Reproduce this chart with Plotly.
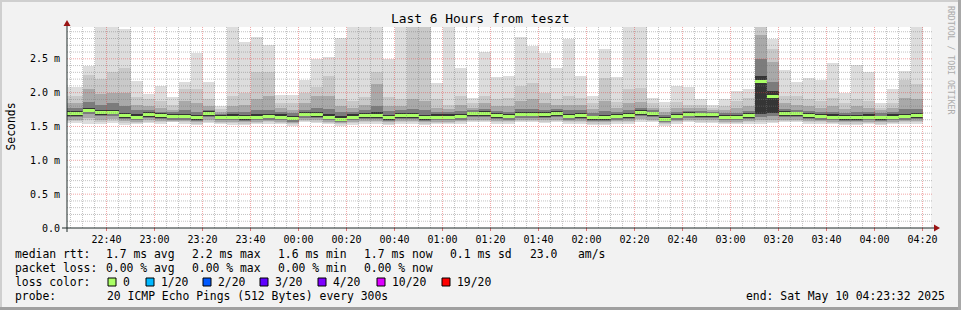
import plotly.graph_objects as go
import pandas as pd

# ---------------- data ----------------
bar_start = pd.date_range("2025-05-09 22:20", periods=72, freq="5min")
x_centers = bar_start + pd.Timedelta(seconds=150)

ping_max = [2.08, 2.08, 2.40, 3.10, 3.10, 2.94, 2.17, 1.98, 2.10, 1.93,
            2.15, 2.58, 2.15, 1.81, 3.10, 2.75, 2.82, 2.71, 1.97, 1.96,
            2.19, 2.50, 2.53, 2.81, 3.10, 3.10, 3.10, 2.50, 3.10, 3.10,
            3.10, 2.14, 3.10, 2.37, 1.92, 2.60, 2.23, 2.24, 2.82, 2.69,
            2.59, 2.36, 2.80, 2.25, 1.95, 2.65, 2.23, 3.10, 3.10, 1.92,
            1.86, 2.10, 2.09, 1.90, 1.82, 1.90, 2.03, 2.06, 3.60, 2.80,
            2.34, 2.16, 2.21, 2.19, 2.44, 2.00, 2.41, 2.31, 1.85, 2.06,
            2.32, 3.10]
ping_hi2 = [1.95, 1.95, 2.26, 2.20, 2.30, 2.36, 1.93, 1.91, 1.88, 1.82,
            2.05, 2.05, 1.91, 1.76, 1.95, 2.00, 2.30, 2.30, 1.85, 1.84,
            1.99, 2.09, 2.25, 1.91, 1.87, 1.94, 2.31, 1.93, 1.91, 3.10,
            3.10, 1.90, 1.82, 1.95, 1.84, 1.95, 1.90, 1.92, 2.10, 2.14,
            2.00, 1.91, 1.95, 1.92, 1.85, 2.22, 1.86, 2.05, 2.07, 1.85,
            1.78, 1.86, 1.82, 1.82, 1.78, 1.80, 1.88, 1.92, 3.20, 2.65,
            1.95, 1.95, 1.90, 1.88, 1.92, 1.85, 1.91, 1.88, 1.78, 1.85,
            2.19, 2.13]
ping_hi3 = [1.85, 1.85, 2.05, 1.98, 2.00, 2.00, 1.82, 1.80, 1.78, 1.75,
            1.88, 1.85, 1.80, 1.72, 1.80, 1.82, 1.90, 1.95, 1.78, 1.75,
            1.85, 1.95, 1.95, 1.80, 1.78, 1.82, 2.13, 1.80, 1.80, 1.90,
            1.88, 1.78, 1.76, 1.82, 1.78, 1.84, 1.80, 1.80, 1.88, 1.90,
            1.85, 1.82, 1.82, 1.82, 1.76, 1.88, 1.78, 1.85, 1.86, 1.78,
            1.72, 1.78, 1.77, 1.77, 1.75, 1.75, 1.78, 1.80, 2.85, 2.45,
            1.84, 1.82, 1.80, 1.78, 1.80, 1.76, 1.80, 1.78, 1.74, 1.78,
            1.92, 1.90]
ping_hi4 = [1.78, 1.78, 1.86, 1.82, 1.84, 1.80, 1.74, 1.74, 1.72, 1.71,
            1.74, 1.72, 1.74, 1.68, 1.72, 1.71, 1.74, 1.75, 1.72, 1.70,
            1.75, 1.78, 1.76, 1.72, 1.72, 1.74, 1.80, 1.73, 1.74, 1.76,
            1.74, 1.72, 1.71, 1.73, 1.74, 1.76, 1.73, 1.72, 1.76, 1.76,
            1.74, 1.76, 1.74, 1.74, 1.70, 1.73, 1.72, 1.74, 1.77, 1.74,
            1.67, 1.71, 1.73, 1.73, 1.72, 1.70, 1.70, 1.73, 2.50, 2.15,
            1.76, 1.75, 1.73, 1.72, 1.72, 1.70, 1.72, 1.71, 1.70, 1.72,
            1.76, 1.76]
ping_hi5 = [1.73, 1.73, 1.78, 1.75, 1.75, 1.70, 1.68, 1.71, 1.70, 1.69,
            1.69, 1.67, 1.73, 1.67, 1.68, 1.67, 1.68, 1.69, 1.68, 1.66,
            1.72, 1.71, 1.68, 1.65, 1.68, 1.70, 1.71, 1.67, 1.70, 1.70,
            1.67, 1.68, 1.68, 1.69, 1.72, 1.73, 1.70, 1.69, 1.72, 1.72,
            1.71, 1.73, 1.69, 1.70, 1.66, 1.67, 1.69, 1.70, 1.74, 1.72,
            1.64, 1.68, 1.71, 1.70, 1.70, 1.67, 1.67, 1.70, 2.25, 2.02,
            1.73, 1.72, 1.70, 1.69, 1.68, 1.67, 1.67, 1.68, 1.66, 1.68,
            1.69, 1.70]
median_rtt = [1.69, 1.69, 1.74, 1.70, 1.71, 1.66, 1.64, 1.67, 1.66, 1.65,
              1.65, 1.63, 1.69, 1.64, 1.64, 1.63, 1.64, 1.65, 1.64, 1.62,
              1.68, 1.67, 1.64, 1.61, 1.64, 1.66, 1.66, 1.63, 1.66, 1.66,
              1.63, 1.64, 1.64, 1.65, 1.69, 1.69, 1.66, 1.65, 1.68, 1.68,
              1.67, 1.69, 1.65, 1.66, 1.63, 1.63, 1.65, 1.66, 1.70, 1.69,
              1.61, 1.65, 1.68, 1.67, 1.67, 1.64, 1.64, 1.66, 2.16, 1.94,
              1.69, 1.69, 1.66, 1.65, 1.64, 1.63, 1.63, 1.64, 1.63, 1.64,
              1.65, 1.66]
ping_lo5 = [1.66, 1.66, 1.71, 1.67, 1.68, 1.63, 1.61, 1.64, 1.63, 1.62,
            1.62, 1.60, 1.66, 1.61, 1.61, 1.60, 1.61, 1.62, 1.61, 1.59,
            1.65, 1.64, 1.61, 1.58, 1.61, 1.63, 1.63, 1.60, 1.63, 1.63,
            1.60, 1.61, 1.61, 1.62, 1.66, 1.66, 1.63, 1.62, 1.65, 1.65,
            1.64, 1.66, 1.62, 1.63, 1.60, 1.60, 1.62, 1.63, 1.67, 1.66,
            1.58, 1.62, 1.65, 1.64, 1.64, 1.61, 1.61, 1.63, 1.69, 1.70,
            1.66, 1.66, 1.63, 1.62, 1.61, 1.60, 1.60, 1.61, 1.60, 1.61,
            1.62, 1.63]
ping_lo4 = [1.64, 1.64, 1.68, 1.65, 1.66, 1.61, 1.59, 1.62, 1.61, 1.60,
            1.60, 1.58, 1.64, 1.59, 1.59, 1.58, 1.59, 1.60, 1.59, 1.57,
            1.63, 1.62, 1.59, 1.56, 1.59, 1.61, 1.61, 1.58, 1.61, 1.61,
            1.58, 1.59, 1.59, 1.60, 1.64, 1.64, 1.61, 1.60, 1.63, 1.63,
            1.62, 1.64, 1.60, 1.61, 1.58, 1.58, 1.60, 1.61, 1.65, 1.64,
            1.56, 1.60, 1.63, 1.62, 1.62, 1.59, 1.59, 1.61, 1.64, 1.65,
            1.64, 1.64, 1.61, 1.60, 1.59, 1.58, 1.58, 1.59, 1.58, 1.59,
            1.60, 1.61]
ping_lo3 = [1.60, 1.60, 1.62, 1.60, 1.61, 1.58, 1.57, 1.59, 1.58, 1.58,
            1.58, 1.56, 1.60, 1.57, 1.57, 1.56, 1.57, 1.58, 1.57, 1.55,
            1.60, 1.59, 1.57, 1.55, 1.57, 1.58, 1.58, 1.56, 1.58, 1.58,
            1.56, 1.57, 1.57, 1.58, 1.60, 1.60, 1.58, 1.58, 1.60, 1.60,
            1.59, 1.60, 1.58, 1.58, 1.56, 1.56, 1.58, 1.58, 1.61, 1.60,
            1.55, 1.58, 1.60, 1.59, 1.59, 1.57, 1.57, 1.58, 1.60, 1.60,
            1.60, 1.60, 1.58, 1.58, 1.57, 1.56, 1.56, 1.57, 1.56, 1.57,
            1.58, 1.58]
ping_lo2 = [1.58, 1.58, 1.59, 1.57, 1.58, 1.55, 1.55, 1.57, 1.56, 1.57,
            1.56, 1.54, 1.57, 1.55, 1.55, 1.54, 1.55, 1.56, 1.55, 1.53,
            1.58, 1.57, 1.55, 1.53, 1.55, 1.56, 1.56, 1.54, 1.56, 1.56,
            1.54, 1.55, 1.55, 1.56, 1.58, 1.58, 1.56, 1.56, 1.58, 1.58,
            1.57, 1.58, 1.56, 1.56, 1.54, 1.54, 1.56, 1.56, 1.59, 1.58,
            1.53, 1.56, 1.58, 1.57, 1.57, 1.55, 1.55, 1.56, 1.57, 1.57,
            1.58, 1.58, 1.56, 1.56, 1.55, 1.54, 1.54, 1.55, 1.54, 1.55,
            1.56, 1.56]
ping_min = [1.55, 1.55, 1.53, 1.54, 1.55, 1.52, 1.53, 1.55, 1.54, 1.56,
            1.53, 1.52, 1.55, 1.53, 1.52, 1.52, 1.53, 1.54, 1.53, 1.51,
            1.56, 1.55, 1.53, 1.51, 1.52, 1.53, 1.54, 1.52, 1.54, 1.53,
            1.52, 1.53, 1.53, 1.54, 1.56, 1.56, 1.54, 1.53, 1.56, 1.56,
            1.55, 1.56, 1.54, 1.54, 1.52, 1.52, 1.54, 1.54, 1.57, 1.56,
            1.51, 1.54, 1.56, 1.55, 1.55, 1.53, 1.53, 1.54, 1.54, 1.55,
            1.56, 1.56, 1.54, 1.54, 1.53, 1.52, 1.52, 1.53, 1.52, 1.53,
            1.54, 1.54]

y_tick_vals = [0.0, 0.5, 1.0, 1.5, 2.0, 2.5]
y_tick_text = ["0.0", "0.5 m", "1.0 m", "1.5 m", "2.0 m", "2.5 m"]

loss_labels = ["0", "1/20", "2/20", "3/20", "4/20", "10/20", "19/20"]
loss_colors = ["#aaff66", "#00b8ff", "#0059ff", "#5e00ff", "#7e00ff", "#dd00ff", "#ff0000"]

X_START = "2025-05-09 22:23:32"
X_END = "2025-05-10 04:23:32"
Y_MAX = 2.97

# ---------------- layout helpers (pixel -> paper) ----------------
W, H = 961, 310
L, R, T, B = 67, 30, 27, 82
PW, PH = W - L - R, H - T - B


def fx(px):
    return (px - L) / PW


def fy(py):
    return (H - B - py) / PH


FONT = "DejaVu Sans Mono"

fig = go.Figure()

bands = [
    (ping_min, ping_max, "#dddddd"),
    (ping_lo2, ping_hi2, "#c9c9c9"),
    (ping_lo3, ping_hi3, "#a9a9a9"),
    (ping_lo4, ping_hi4, "#7c7c7c"),
    (ping_lo5, ping_hi5, "#353535"),
]
for lo, hi, col in bands:
    fig.add_trace(go.Bar(
        x=x_centers, y=[h - l for l, h in zip(lo, hi)], base=lo,
        width=300000, marker=dict(color=col, line=dict(width=0)),
        hoverinfo="skip", showlegend=False))

MED_H = 0.044
fig.add_trace(go.Bar(
    x=x_centers, y=[MED_H] * len(median_rtt), base=[m - MED_H / 2 for m in median_rtt],
    width=300000, marker=dict(color=loss_colors[0], line=dict(width=0)),
    hoverinfo="skip", showlegend=False))

shapes = []
# grid on top of data
minor_x = pd.date_range("2025-05-09 22:25", "2025-05-10 04:20", freq="5min")
major_x = set(pd.date_range("2025-05-09 22:40", "2025-05-10 04:20", freq="20min"))
MINOR_C = "rgba(120,120,120,0.45)"
MAJOR_C = "rgba(225,60,60,0.45)"
for t in minor_x:
    major = t in major_x
    s = t.strftime("%Y-%m-%d %H:%M:%S")
    shapes.append(dict(type="line", xref="x", yref="paper", x0=s, x1=s, y0=0, y1=1,
                       line=dict(color=MAJOR_C if major else MINOR_C, width=1, dash="1px,1px"),
                       layer="above"))
    if major:
        shapes.append(dict(type="line", xref="x", yref="paper", x0=s, x1=s, y0=fy(231), y1=fy(228),
                           line=dict(color="#e07070", width=1), layer="above"))
for i in range(1, 30):
    v = i / 10
    major = (i % 5 == 0)
    shapes.append(dict(type="line", xref="paper", yref="y", x0=0, x1=fx(932), y0=v, y1=v,
                       line=dict(color=MAJOR_C if major else MINOR_C, width=1, dash="1px,1px"),
                       layer="above"))
# axes
AX_C = "#1f2b28"
shapes.append(dict(type="line", xref="paper", yref="paper", x0=fx(62), x1=fx(935), y0=fy(228), y1=fy(228),
                   line=dict(color=AX_C, width=1), layer="above"))
shapes.append(dict(type="line", xref="paper", yref="paper", x0=fx(67), x1=fx(67), y0=fy(232), y1=fy(24),
                   line=dict(color=AX_C, width=1), layer="above"))
ARROW_C = "#9a1414"
shapes.append(dict(type="path", xref="paper", yref="paper",
                   path=f"M {fx(63.5)},{fy(26)} L {fx(70.5)},{fy(26)} L {fx(67)},{fy(20)} Z",
                   fillcolor=ARROW_C, line=dict(width=0), layer="above"))
shapes.append(dict(type="path", xref="paper", yref="paper",
                   path=f"M {fx(934)},{fy(224.5)} L {fx(934)},{fy(231.5)} L {fx(940)},{fy(228)} Z",
                   fillcolor=ARROW_C, line=dict(width=0), layer="above"))
# frame shading
shapes.append(dict(type="line", xref="paper", yref="paper", x0=fx(0), x1=fx(961), y0=fy(1), y1=fy(1),
                   line=dict(color="#cfcfcf", width=2), layer="above"))
shapes.append(dict(type="line", xref="paper", yref="paper", x0=fx(1), x1=fx(1), y0=fy(0), y1=fy(310),
                   line=dict(color="#cfcfcf", width=2), layer="above"))
shapes.append(dict(type="line", xref="paper", yref="paper", x0=fx(0), x1=fx(961), y0=fy(308.5), y1=fy(308.5),
                   line=dict(color="#a0a0a0", width=3), layer="above"))
shapes.append(dict(type="line", xref="paper", yref="paper", x0=fx(959.5), x1=fx(959.5), y0=fy(0), y1=fy(310),
                   line=dict(color="#a8a8a8", width=3), layer="above"))

annotations = []


def txt(text, px, py, size=11.4, anchor="left", color="#000000", angle=0):
    annotations.append(dict(text=text, xref="paper", yref="paper", x=fx(px), y=fy(py),
                            xanchor=anchor, yanchor="middle", showarrow=False, textangle=angle,
                            borderpad=0, borderwidth=0,
                            font=dict(family=FONT, size=size, color=color)))


txt("Last 6 Hours from teszt", 480.5, 19, size=12.9, anchor="center")
txt("Seconds", 10.5, 127, size=11.4, anchor="center", angle=-90)
txt("RRDTOOL / TOBI OETIKER", 951, 60, size=8.2, anchor="center", color="#ababab", angle=90)

row1 = [("median rtt:", 16), ("1.7 ms avg", 107), ("2.2 ms max", 193), ("1.6 ms min", 279),
        ("1.7 ms now", 365), ("0.1 ms sd", 451), ("23.0", 531), ("am/s", 579)]
row2 = [("packet loss:", 16), ("0.00 % avg", 107), ("0.00 % max", 193), ("0.00 % min", 279),
        ("0.00 % now", 365)]
for t, px in row1:
    txt(t, px - 0.6, 254)
for t, px in row2:
    txt(t, px - 0.6, 268)
txt("loss color:", 15.4, 282)
sw_x = [108, 146, 203, 260, 318, 377, 442]
for lab, col, sx in zip(loss_labels, loss_colors, sw_x):
    shapes.append(dict(type="rect", xref="paper", yref="paper", x0=fx(sx), x1=fx(sx + 8),
                       y0=fy(286), y1=fy(278), fillcolor=col, line=dict(color="#000000", width=1),
                       layer="above"))
    txt(lab, sx + 14.6, 282)
txt("probe:", 15.4, 296)
txt("20 ICMP Echo Pings (512 Bytes) every 300s", 106.7, 296)
txt("end: Sat May 10 04:23:32 2025", 944.5, 296, anchor="right")

fig.update_layout(
    width=W, height=H,
    margin=dict(l=L, r=R, t=T, b=B, pad=0),
    paper_bgcolor="#f2f2f2", plot_bgcolor="#ffffff",
    barmode="overlay", bargap=0, showlegend=False,
    shapes=shapes, annotations=annotations,
    xaxis=dict(type="date", range=[X_START, X_END], showgrid=False, zeroline=False, showline=False,
               tick0="2025-05-09 22:40", dtick=20 * 60 * 1000, tickformat="%H:%M",
               ticks="", ticklabelstandoff=4,
               tickfont=dict(family=FONT, size=10, color="#000000"), fixedrange=True),
    yaxis=dict(range=[0, Y_MAX], showgrid=False, zeroline=False, showline=False,
               tickvals=y_tick_vals, ticktext=y_tick_text, ticks="", ticklabelstandoff=6,
               tickfont=dict(family=FONT, size=10, color="#000000"), fixedrange=True),
)

fig.write_html("out.html", config={"displayModeBar": False})
